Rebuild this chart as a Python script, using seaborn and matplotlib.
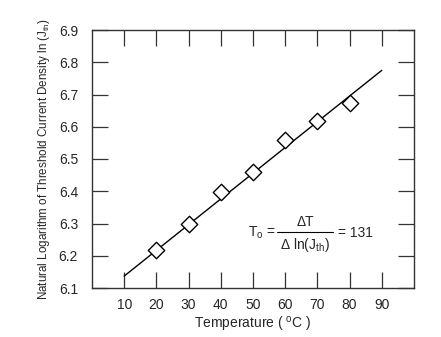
import matplotlib
matplotlib.use("Agg")
import matplotlib.pyplot as plt
import seaborn as sns
import pandas as pd

# Data
temperature = [20, 30, 40, 50, 60, 70, 80]
ln_jth = [6.217, 6.298, 6.397, 6.461, 6.558, 6.617, 6.674]
fit_temperature = [10, 90]
fit_ln_jth = [6.137, 6.775]
x_ticks = [10, 20, 30, 40, 50, 60, 70, 80, 90]
y_ticks = [6.1, 6.2, 6.3, 6.4, 6.5, 6.6, 6.7, 6.8, 6.9]

sns.set_style("white")
plt.rcParams['font.family'] = ['Liberation Sans', 'DejaVu Sans']
plt.rcParams['mathtext.fontset'] = 'custom'
plt.rcParams['mathtext.rm'] = 'Liberation Sans'
plt.rcParams['mathtext.it'] = 'Liberation Sans'

pts = pd.DataFrame({"T": temperature, "lnJ": ln_jth})
fit = pd.DataFrame({"T": fit_temperature, "lnJ": fit_ln_jth})

fig = plt.figure(figsize=(4.41, 3.37), dpi=100)
ax = fig.add_axes([92/441, 1-288/337, (414-92)/441, (288-30)/337])

sns.lineplot(data=fit, x="T", y="lnJ", ax=ax, color="black", linewidth=1.0)
sns.scatterplot(data=pts, x="T", y="lnJ", ax=ax, marker="D", s=70,
                facecolor="white", edgecolor="black", linewidth=1.0, zorder=3)

ax.set_xlim(0, 100)
ax.set_ylim(6.1, 6.9)
ax.set_xticks(x_ticks)
ax.set_yticks(y_ticks)
ax.set_xticklabels([str(v) for v in x_ticks])
ax.set_yticklabels([f"{v:.1f}" for v in y_ticks])
ax.tick_params(direction="in", length=11.5, width=0.9, color="#333333",
               top=True, right=True, bottom=True, left=True,
               labelsize=10)
ax.tick_params(axis="x", pad=7)
ax.tick_params(axis="y", pad=10)
for s in ax.spines.values():
    s.set_color("#333333")
    s.set_linewidth(1.0)
    s.set_visible(True)

ax.set_xlabel(r"Temperature ( $\mathregular{^{o}}$C )", fontsize=10, labelpad=2)
ax.set_ylabel(r"Natural Logarithm of Threshold Current Density ln (J$\mathregular{_{th}}$)",
              fontsize=8.4, labelpad=5)

ax.text(0.483, 0.215, r"T$\mathregular{_o}$ =", transform=ax.transAxes,
        fontsize=10, ha="left", va="center")
ax.plot([0.575, 0.75], [0.218, 0.218], transform=ax.transAxes,
        color="black", linewidth=0.8)
ax.text(0.662, 0.255, "ΔT", transform=ax.transAxes, fontsize=10,
        ha="center", va="center")
ax.text(0.662, 0.168, r"Δ ln(J$\mathregular{_{th}}$)", transform=ax.transAxes,
        fontsize=10, ha="center", va="center")
ax.text(0.765, 0.215, "= 131", transform=ax.transAxes, fontsize=10,
        ha="left", va="center")

fig.savefig("out.png", dpi=100)
